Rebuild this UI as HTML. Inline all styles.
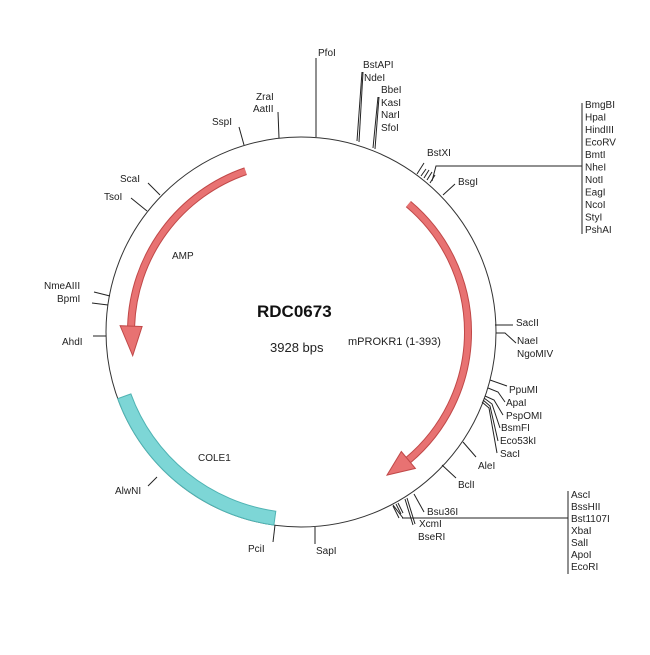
<!DOCTYPE html>
<html><head><meta charset="utf-8"><style>
html,body{margin:0;padding:0;background:#fff;}
svg text{font-family:"Liberation Sans",sans-serif;font-size:10px;fill:#222;}
</style></head><body>
<svg width="650" height="650" viewBox="0 0 650 650" xmlns="http://www.w3.org/2000/svg">
<circle cx="301" cy="332" r="195" fill="none" stroke="#333" stroke-width="1"/>
<!-- COLE1 -->
<path d="M273.9,525.1 A195,195 0 0 1 117.7,398.7 L130.9,393.9 A181,181 0 0 0 275.8,511.2 Z" fill="#7dd6d6" stroke="#4fb3b3" stroke-width="1"/>
<!-- AMP -->
<path d="M245.6,171.2 A170,170 0 0 0 131.1,326.1" fill="none" stroke="#c04848" stroke-width="8"/>
<path d="M245.6,171.2 A170,170 0 0 0 131.1,326.1" fill="none" stroke="#e87272" stroke-width="6"/>
<polygon points="142.1,326.5 120.1,325.7 132.7,355.7" fill="#e87272" stroke="#c04848" stroke-width="1"/>
<!-- mPROKR1 -->
<path d="M408.4,204.1 A167,167 0 0 1 408.4,459.9" fill="none" stroke="#c04848" stroke-width="8"/>
<path d="M408.4,204.1 A167,167 0 0 1 408.4,459.9" fill="none" stroke="#e87272" stroke-width="6"/>
<polygon points="401.3,451.5 415.4,468.4 387.0,475.1" fill="#e87272" stroke="#c04848" stroke-width="1"/>

<g stroke="#222" stroke-width="1" fill="none">
<line x1="316" y1="137" x2="316" y2="58"/>
<line x1="357" y1="141" x2="362" y2="72"/>
<line x1="359" y1="142" x2="363" y2="72"/>
<line x1="373" y1="148" x2="378" y2="97"/>
<line x1="375" y1="149" x2="379" y2="97"/>
<line x1="279" y1="138" x2="278" y2="112"/>
<line x1="244" y1="145" x2="239" y2="127"/>
<!-- BstXI cluster -->
<line x1="417" y1="174" x2="424" y2="163"/>
<line x1="421" y1="176" x2="426" y2="169"/>
<line x1="424" y1="178" x2="429" y2="170"/>
<line x1="427" y1="180" x2="432" y2="172"/>
<line x1="430" y1="183" x2="435" y2="175"/>
<polyline points="432,181 436,166 582,166"/>
<line x1="582" y1="103" x2="582" y2="234"/>
<line x1="443" y1="195" x2="455" y2="184"/>
<!-- right side -->
<line x1="495" y1="325" x2="513" y2="325"/>
<polyline points="496,333 505,333 516,343"/>
<line x1="490" y1="380" x2="507" y2="386"/>
<polyline points="488,388 498,392 505,402"/>
<polyline points="485,396 494,400 503,415"/>
<polyline points="484,398 492,404 500,428"/>
<polyline points="483,400 490,406 498,441"/>
<polyline points="482,402 489,408 497,453"/>
<line x1="463" y1="442" x2="476" y2="457"/>
<line x1="442" y1="465" x2="456" y2="478"/>
<!-- bottom cluster -->
<line x1="393" y1="506" x2="399" y2="518"/>
<line x1="396" y1="504" x2="401" y2="514"/>
<line x1="398" y1="503" x2="403" y2="513"/>
<line x1="405" y1="499" x2="413" y2="525"/>
<line x1="407" y1="498" x2="415" y2="524"/>
<line x1="414" y1="494" x2="424" y2="512"/>
<line x1="393" y1="505" x2="403" y2="518"/>
<line x1="402" y1="518" x2="568" y2="518"/>
<line x1="568" y1="491" x2="568" y2="574"/>
<!-- left side -->
<line x1="160" y1="195" x2="148" y2="183"/>
<line x1="147" y1="211" x2="131" y2="198"/>
<line x1="110" y1="296" x2="94" y2="292"/>
<line x1="108" y1="305" x2="92" y2="303"/>
<line x1="106" y1="336" x2="93" y2="336"/>
<line x1="157" y1="477" x2="148" y2="486"/>
<line x1="275" y1="525" x2="273" y2="542"/>
<line x1="315" y1="527" x2="315" y2="544"/>
</g>

<text x="318" y="56">PfoI</text>
<text x="363" y="68">BstAPI</text>
<text x="364" y="81">NdeI</text>
<text x="381" y="93">BbeI</text>
<text x="381" y="106">KasI</text>
<text x="381" y="118">NarI</text>
<text x="381" y="131">SfoI</text>
<text x="256" y="100">ZraI</text>
<text x="253" y="112">AatII</text>
<text x="212" y="125">SspI</text>
<text x="427" y="156">BstXI</text>
<text x="458" y="185">BsgI</text>
<g>
<text x="585" y="108">BmgBI</text>
<text x="585" y="120.5">HpaI</text>
<text x="585" y="133">HindIII</text>
<text x="585" y="145.5">EcoRV</text>
<text x="585" y="158">BmtI</text>
<text x="585" y="170.5">NheI</text>
<text x="585" y="183">NotI</text>
<text x="585" y="195.5">EagI</text>
<text x="585" y="208">NcoI</text>
<text x="585" y="220.5">StyI</text>
<text x="585" y="233">PshAI</text>
</g>
<text x="516" y="326">SacII</text>
<text x="517" y="344">NaeI</text>
<text x="517" y="357">NgoMIV</text>
<text x="509" y="393">PpuMI</text>
<text x="506" y="406">ApaI</text>
<text x="506" y="419">PspOMI</text>
<text x="501" y="431">BsmFI</text>
<text x="500" y="444">Eco53kI</text>
<text x="500" y="457">SacI</text>
<text x="478" y="469">AleI</text>
<text x="458" y="488">BclI</text>
<text x="427" y="515">Bsu36I</text>
<text x="419" y="527">XcmI</text>
<text x="418" y="540">BseRI</text>
<g>
<text x="571" y="498">AscI</text>
<text x="571" y="510">BssHII</text>
<text x="571" y="522">Bst1107I</text>
<text x="571" y="534">XbaI</text>
<text x="571" y="546">SalI</text>
<text x="571" y="558">ApoI</text>
<text x="571" y="570">EcoRI</text>
</g>
<text x="120" y="182">ScaI</text>
<text x="104" y="200">TsoI</text>
<text x="44" y="289">NmeAIII</text>
<text x="57" y="302">BpmI</text>
<text x="62" y="345">AhdI</text>
<text x="115" y="494">AlwNI</text>
<text x="248" y="552">PciI</text>
<text x="316" y="554">SapI</text>

<text x="172" y="259">AMP</text>
<text x="198" y="461">COLE1</text>
<text x="257" y="317" style="font-size:17px;font-weight:bold;fill:#111">RDC0673</text>
<text x="270" y="352" style="font-size:13px">3928 bps</text>
<text x="348" y="345" style="font-size:11px">mPROKR1 (1-393)</text>
</svg>
</body></html>
